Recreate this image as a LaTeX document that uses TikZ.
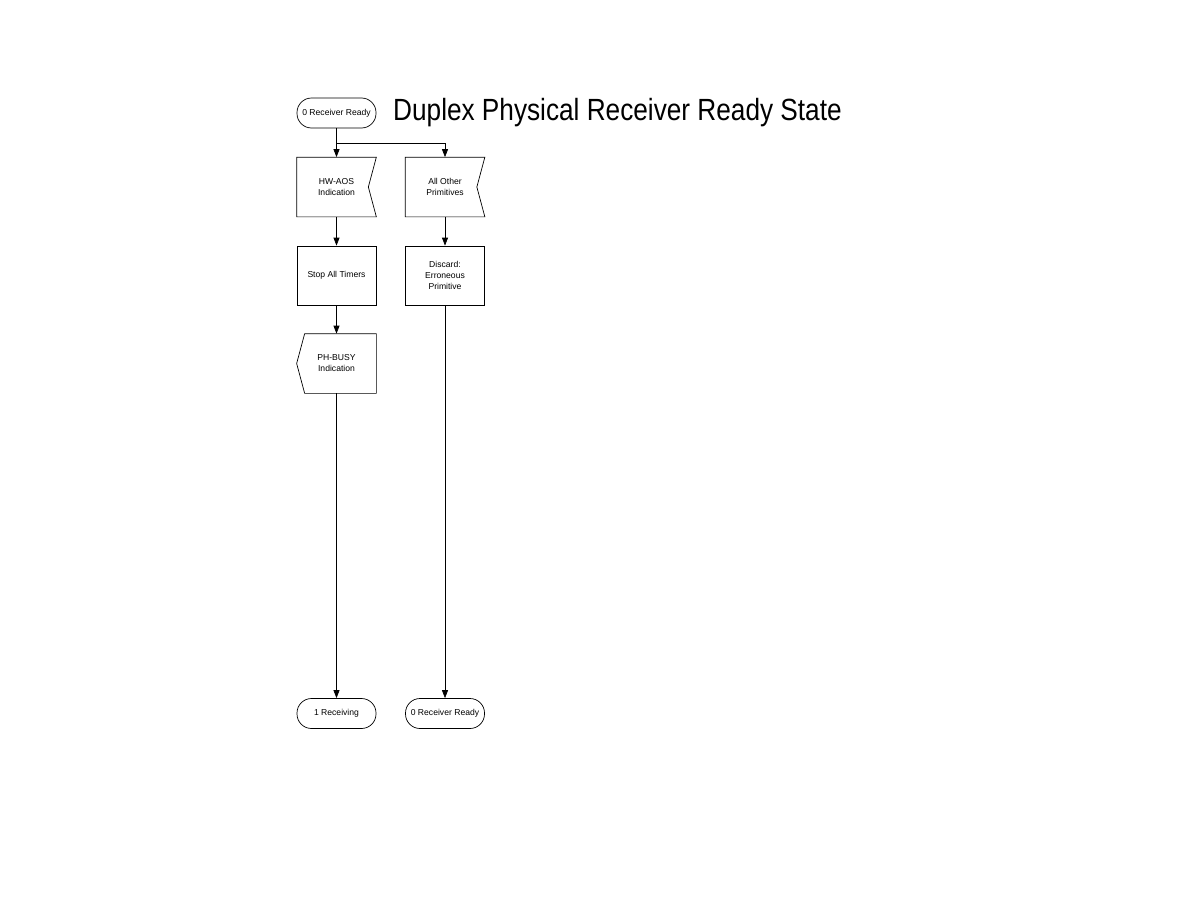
\documentclass[tikz,border=0pt]{standalone}
\usepackage{fontspec}
\setmainfont{Liberation Sans}
\usetikzlibrary{arrows.meta}
\tikzset{
 box/.style={draw,rectangle,line width=0.7pt,minimum width=79pt,minimum height=59pt,inner sep=1pt,align=center,font=\fontsize{8.6}{11}\selectfont},
 term/.style={box,rounded corners=14.5pt,minimum height=30pt},
 inbox/.style={box,draw=none,append after command={\pgfextra{\draw[line width=0.7pt]
   (\tikzlastnode.north west)--(\tikzlastnode.north east)--([xshift=-8pt]\tikzlastnode.east)
   --(\tikzlastnode.south east)--(\tikzlastnode.south west)--cycle;}}},
 outbox/.style={box,draw=none,append after command={\pgfextra{\draw[line width=0.7pt]
   (\tikzlastnode.north east)--([xshift=8pt]\tikzlastnode.north west)--(\tikzlastnode.west)
   --([xshift=8pt]\tikzlastnode.south west)--(\tikzlastnode.south east)--cycle;}}},
 arr/.style={line width=0.7pt,-{Triangle[length=8pt,width=6pt]}}
}
\begin{document}
\begin{tikzpicture}[x=1pt,y=-1pt]
 \useasboundingbox (0,0) rectangle (1188,918);
 % title
 \node[anchor=base west,inner sep=0pt,font=\fontsize{26.2}{30}\selectfont,yscale=1.17,transform shape] (title) at (393,120) {Duplex Physical Receiver Ready State};
 % left column
 \node[term] (start) at (336.5,113) {0 Receiver Ready};
 \node[inbox] (hwaos) at (336.5,187) {HW-AOS\\Indication};
 \node[box] (stop) at (336.5,275.5) {Stop All Timers};
 \node[outbox] (busy) at (336.5,363.5) {PH-BUSY\\Indication};
 \node[term] (recv) at (336.5,713.5) {1 Receiving};
 % right column
 \node[inbox] (other) at (445,187) {All Other\\Primitives};
 \node[box] (discard) at (445,275.5) {Discard:\\Erroneous\\Primitive};
 \node[term] (ready) at (445,713.5) {0 Receiver Ready};
 % connectors
 \coordinate (split) at (336.5,143);
 \draw[arr] (start) -- (hwaos);
 \draw[arr] (split) -| (other);
 \draw[arr] (hwaos) -- (stop);
 \draw[arr] (stop) -- (busy);
 \draw[arr] (busy) -- (recv);
 \draw[arr] (other) -- (discard);
 \draw[arr] (discard) -- (ready);
\end{tikzpicture}
\end{document}
